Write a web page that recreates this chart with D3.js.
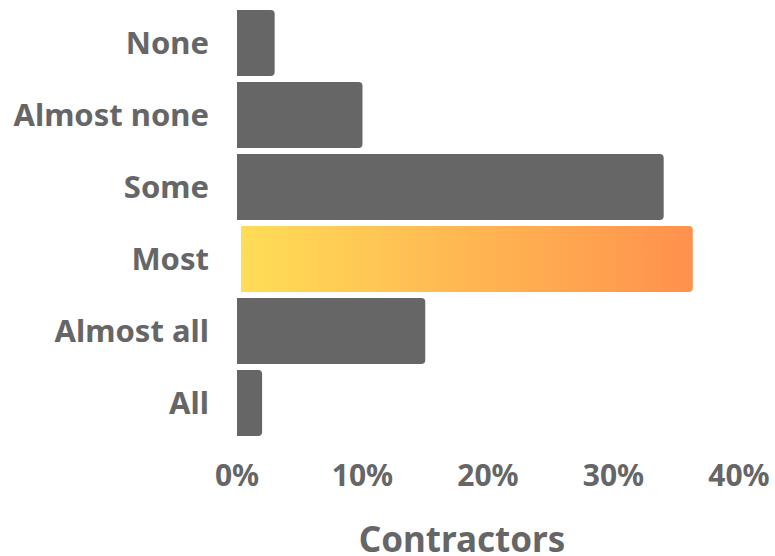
<!DOCTYPE html>
<html><head><meta charset="utf-8">
<script src="https://cdn.jsdelivr.net/npm/d3@7"></script>
<style>body{margin:0;background:#fff}svg{display:block}text{font-family:"Noto Sans","Open Sans",sans-serif;font-weight:700;fill:#666}</style>
</head><body>
<script>
const categories = ["None","Almost none","Some","Most","Almost all","All"];
const values = [3,10,34,36,15,2];
const highlight = "Most";
const xTicks = [0,10,20,30,40];
const xTitle = "Contractors";

const W=775,H=556;
const svg=d3.select("body").append("svg").attr("width",W).attr("height",H);
const x=d3.scaleLinear().domain([0,40]).range([237,739]);
const y=d3.scaleBand().domain(categories).range([7,439]).paddingInner(0.083).paddingOuter(0.04);

const defs=svg.append("defs");
const g=defs.append("linearGradient").attr("id","hl").attr("x1","0%").attr("x2","100%");
g.append("stop").attr("offset","0%").attr("stop-color","#FFDD57");
g.append("stop").attr("offset","100%").attr("stop-color","#FF914D");

function barPath(x0,x1,y0,h,r){
  return `M${x0},${y0}H${x1-r}Q${x1},${y0} ${x1},${y0+r}V${y0+h-r}Q${x1},${y0+h} ${x1-r},${y0+h}H${x0}Z`;
}
const data=categories.map((c,i)=>({c,v:values[i]}));
svg.selectAll("path.bar").data(data).join("path").attr("class","bar")
  .attr("d",d=>{const off=d.c===highlight?4:0;return barPath(x(0)+off,x(d.v)+off,y(d.c),y.bandwidth(),4);})
  .attr("fill",d=>d.c===highlight?"url(#hl)":"#666666");

svg.selectAll("text.cat").data(categories).join("text").attr("class","cat")
  .attr("x",209).attr("y",d=>y(d)+y.bandwidth()/2).attr("dy","0.35em")
  .attr("text-anchor","end").attr("font-size",31).text(d=>d);

svg.selectAll("text.tick").data(xTicks).join("text").attr("class","tick")
  .attr("x",d=>x(d)).attr("y",475).attr("dy","0.35em").attr("text-anchor","middle")
  .attr("font-size",30).text(d=>d+"%");

svg.append("text").attr("x",462).attr("y",540).attr("dy","0.35em").attr("text-anchor","middle")
  .attr("font-size",35).text(xTitle);
</script>
</body></html>
